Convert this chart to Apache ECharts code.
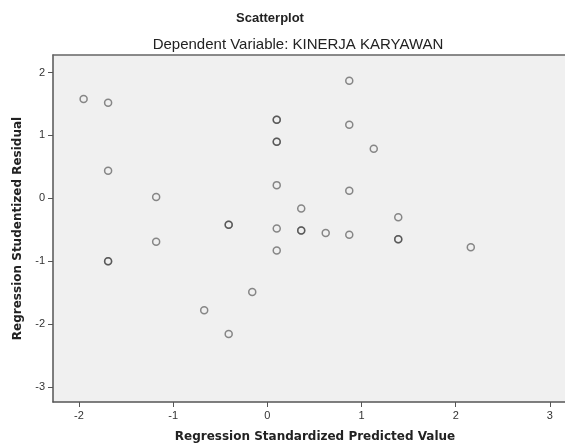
<!DOCTYPE html>
<html>
<head>
<meta charset="utf-8">
<script src="https://cdn.jsdelivr.net/npm/echarts@6/dist/echarts.min.js"></script>
<style>
  html, body { margin: 0; padding: 0; background: #fff; }
  #chart { width: 565px; height: 448px; }
</style>
</head>
<body>
<div id="chart"></div>
<script>
// predicted value (x) and studentized residual (y), one entry per case
const predicted = [
  -1.95, -1.69, -1.69, -1.69, -1.69, -1.18, -1.18, -0.67, -0.41, -0.41,
  -0.41, -0.16, 0.10, 0.10, 0.10, 0.10, 0.10, 0.10, 0.10, 0.36,
  0.36, 0.36, 0.62, 0.87, 0.87, 0.87, 0.87, 1.13, 1.39, 1.39,
  1.39, 2.16
];
const residual = [
  1.58, 1.52, 0.44, -1.00, -1.00, 0.02, -0.69, -1.78, -0.42, -0.42,
  -2.16, -1.49, 1.25, 1.25, 0.90, 0.90, 0.21, -0.48, -0.83, -0.16,
  -0.51, -0.51, -0.55, 1.87, 1.17, 0.12, -0.58, 0.79, -0.30, -0.65,
  -0.65, -0.78
];
const xTicks = [-2, -1, 0, 1, 2, 3];
const yTicks = [-3, -2, -1, 0, 1, 2];

const chart = echarts.init(document.getElementById("chart"));

const points = predicted.map((x, i) => [x, residual[i]]);

const tickLabel = {
  color: "#333",
  fontSize: 11,
  fontFamily: "Liberation Sans, Arial, sans-serif",
};

const option = {
  animation: false,
  backgroundColor: "#fff",
  title: [
    {
      text: "Scatterplot",
      left: 265,
      top: 7,
      textAlign: "center",
      textStyle: {
        fontFamily: "Liberation Sans, Arial, sans-serif",
        fontWeight: "bold",
        fontSize: 13,
        color: "#222",
      },
    },
    {
      text: "Dependent Variable: KINERJA KARYAWAN",
      left: 293,
      top: 32,
      textAlign: "center",
      textStyle: {
        fontFamily: "Liberation Sans, Arial, sans-serif",
        fontWeight: "normal",
        fontSize: 15,
        color: "#222",
      },
    },
  ],
  grid: {
    left: 53,
    right: 0,
    top: 55,
    bottom: 44,
    show: true,
    backgroundColor: "#f0f0f0",
    borderWidth: 0,
  },
  xAxis: [
    {
      type: "value",
      min: -2.275,
      max: 3.16,
      splitLine: { show: false },
      axisLine: { show: true, onZero: false, lineStyle: { color: "#555", width: 1.5 } },
      axisTick: { show: true, length: 5, customValues: xTicks, lineStyle: { color: "#555" } },
      axisLabel: { ...tickLabel, margin: 8, customValues: xTicks },
      name: "Regression Standardized Predicted Value",
      nameLocation: "middle",
      nameGap: 29,
      nameTextStyle: {
        fontFamily: "DejaVu Sans, sans-serif",
        fontWeight: "bold",
        fontSize: 12,
        color: "#222",
        padding: [0, 0, 0, 12],
      },
    },
    {
      // top frame line only
      type: "value",
      position: "top",
      min: -2.275,
      max: 3.16,
      splitLine: { show: false },
      axisLine: { show: true, onZero: false, lineStyle: { color: "#666", width: 1.5 } },
      axisTick: { show: false },
      axisLabel: { show: false },
    },
  ],
  yAxis: {
    type: "value",
    min: -3.24,
    max: 2.28,
    splitLine: { show: false },
    axisLine: { show: true, onZero: false, lineStyle: { color: "#555", width: 1.5 } },
    axisTick: { show: true, length: 5, customValues: yTicks, lineStyle: { color: "#555" } },
    axisLabel: { ...tickLabel, margin: 8, customValues: yTicks },
    name: "Regression Studentized Residual",
    nameLocation: "middle",
    nameGap: 28,
    nameTextStyle: {
      fontFamily: "DejaVu Sans, sans-serif",
      fontWeight: "bold",
      fontSize: 12,
      color: "#222",
    },
  },
  series: [
    {
      type: "scatter",
      data: points,
      symbol: "circle",
      symbolSize: 7,
      itemStyle: {
        color: "transparent",
        borderColor: "rgba(55, 55, 55, 0.72)",
        borderWidth: 1.5,
      },
    },
  ],
};

chart.setOption(option);
</script>
</body>
</html>
